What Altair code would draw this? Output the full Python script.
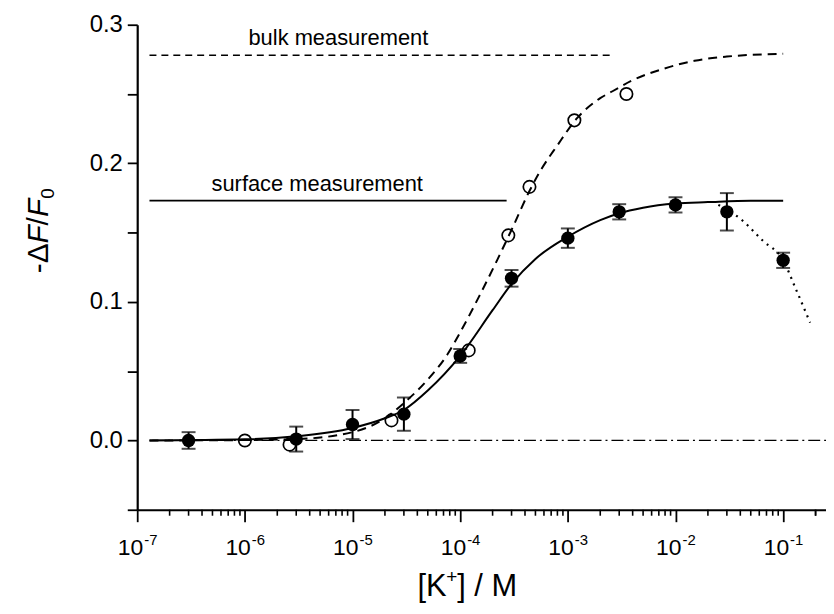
import altair as alt
import pandas as pd

FONT = "Liberation Sans"

# ---- data ----
surface_x = [3e-7, 3e-6, 1e-5, 3e-5, 1e-4, 3e-4, 1e-3, 3e-3, 1e-2, 3e-2, 1e-1]
surface_y = [0.000, 0.001, 0.0115, 0.019, 0.061, 0.117, 0.146, 0.165, 0.170, 0.165, 0.130]
surface_err = [0.006, 0.009, 0.0105, 0.012, 0.005, 0.006, 0.007, 0.0055, 0.0055, 0.0135, 0.0055]

bulk_x = [1e-6, 2.6e-6, 2.3e-5, 1.2e-4, 2.8e-4, 4.4e-4, 1.15e-3, 3.5e-3]
bulk_y = [0.000, -0.003, 0.0145, 0.065, 0.148, 0.183, 0.231, 0.250]

surface_fit_x = [1.3e-7, 1e-6, 3e-6, 1e-5, 2e-5, 3e-5, 5e-5, 1e-4, 2e-4, 3e-4, 5e-4,
                 1e-3, 2e-3, 3e-3, 5e-3, 1e-2, 2e-2, 5e-2, 1e-1]
surface_fit_y = [0.0, 0.0008, 0.003, 0.009, 0.016, 0.022, 0.036, 0.061, 0.094, 0.113, 0.131,
                 0.147, 0.159, 0.164, 0.168, 0.171, 0.172, 0.173, 0.173]

bulk_fit_x = [1.3e-7, 1e-6, 3e-6, 1e-5, 2e-5, 3e-5, 5e-5, 7.6e-5, 1e-4, 1.5e-4, 2.2e-4, 3e-4,
              4.4e-4, 5.5e-4, 8e-4, 1.2e-3, 2e-3, 2.6e-3, 4e-3, 7.6e-3, 1.5e-2, 3e-2, 1e-1]
bulk_fit_y = [0.0, 0.0003, 0.001, 0.006, 0.016, 0.027, 0.044, 0.062, 0.078, 0.104, 0.130, 0.152,
              0.180, 0.194, 0.213, 0.232, 0.247, 0.252, 0.260, 0.268, 0.274, 0.277, 0.279]

decline_x = [2.5e-2, 4e-2, 6.5e-2, 1e-1, 1.3e-1, 1.78e-1]
decline_y = [0.170, 0.160, 0.144, 0.130, 0.110, 0.085]

# reference levels: (x start, x end, y)
bulk_level = [1.3e-7, 2.7e-3, 0.278]
surface_level = [1.3e-7, 2.7e-4, 0.173]
zero_level = [1.38e-7, 0.25, 0.0]

labels = ["bulk measurement", "surface measurement"]
label_x = [1.08e-6, 4.9e-7]
label_y = [0.2855, 0.180]

decades = [-7, -6, -5, -4, -3, -2, -1]
y_ticks = [-0.05, 0.0, 0.05, 0.1, 0.15, 0.2, 0.25, 0.3]
minor_x = [k * 10.0 ** e for e in range(-7, 0) for k in range(2, 10)] + [2e-1]

X_DOMAIN = [1e-7, 0.25]
Y_DOMAIN = [-0.05, 0.3]
W, H = 693, 488

xs = alt.Scale(type="log", domain=X_DOMAIN)
ys = alt.Scale(domain=Y_DOMAIN)

x_axis = alt.Axis(values=[10.0 ** e for e in decades], labels=False, title=None, grid=False,
                  tickSize=12, tickWidth=1.8, tickColor="black", domainWidth=2.2, domainColor="black")
y_axis = alt.Axis(values=y_ticks, title=None, grid=False, tickSize=10, tickWidth=1.8,
                  tickColor="black", domainWidth=2.2, domainColor="black",
                  labelExpr="abs(round(datum.value*20)) % 2 == 0 ? format(datum.value, '.1f') : ''",
                  labelFont=FONT, labelFontSize=24, labelColor="black", labelPadding=5)

df_s = pd.DataFrame({"x": surface_x, "y": surface_y, "lo": [a - b for a, b in zip(surface_y, surface_err)],
                     "hi": [a + b for a, b in zip(surface_y, surface_err)]})
df_b = pd.DataFrame({"x": bulk_x, "y": bulk_y})
df_sf = pd.DataFrame({"x": surface_fit_x, "y": surface_fit_y})
df_bf = pd.DataFrame({"x": bulk_fit_x, "y": bulk_fit_y})
df_d = pd.DataFrame({"x": decline_x, "y": decline_y})

def level(vals):
    return pd.DataFrame({"x": [vals[0]], "x2": [vals[1]], "y": [vals[2]]})

base_axes = alt.Chart(pd.DataFrame({"x": [1e-7], "y": [0.0]})).mark_point(opacity=0).encode(
    x=alt.X("x:Q", scale=xs, axis=x_axis),
    y=alt.Y("y:Q", scale=ys, axis=y_axis),
)

def hline(vals, dash, width=1.8):
    kw = {"strokeDash": dash} if dash else {}
    return alt.Chart(level(vals)).mark_rule(color="black", strokeWidth=width, **kw).encode(
        x=alt.X("x:Q", scale=xs), x2="x2:Q", y=alt.Y("y:Q", scale=ys))

zero = hline(zero_level, [12, 4, 2, 4], 1.2)
bulk_h = hline(bulk_level, [7, 5], 1.6)
surf_h = hline(surface_level, None, 1.8)

def curve(df, dash, width=2):
    kw = {"strokeDash": dash} if dash else {}
    return alt.Chart(df).mark_line(color="black", strokeWidth=width, interpolate="monotone", **kw).encode(
        x=alt.X("x:Q", scale=xs), y=alt.Y("y:Q", scale=ys))

c_surf = curve(df_sf, None, 2)
c_bulk = curve(df_bf, [9, 6], 2)
c_dec = curve(df_d, [2, 5], 2.2)

err = alt.Chart(df_s).mark_rule(color="black", strokeWidth=2).encode(
    x=alt.X("x:Q", scale=xs), y=alt.Y("lo:Q", scale=ys), y2="hi:Q")
cap_lo = alt.Chart(df_s).mark_tick(color="black", orient="horizontal", size=14, thickness=2).encode(
    x=alt.X("x:Q", scale=xs), y=alt.Y("lo:Q", scale=ys))
cap_hi = alt.Chart(df_s).mark_tick(color="black", orient="horizontal", size=14, thickness=2).encode(
    x=alt.X("x:Q", scale=xs), y=alt.Y("hi:Q", scale=ys))
filled = alt.Chart(df_s).mark_circle(color="black", size=180, opacity=1).encode(
    x=alt.X("x:Q", scale=xs), y=alt.Y("y:Q", scale=ys))
hollow = alt.Chart(df_b).mark_point(color="black", shape="circle", filled=False, size=155,
                                    strokeWidth=1.7, opacity=1).encode(
    x=alt.X("x:Q", scale=xs), y=alt.Y("y:Q", scale=ys))

txt = alt.Chart(pd.DataFrame({"x": label_x, "y": label_y, "t": labels})).mark_text(
    font=FONT, fontSize=22, align="left", baseline="alphabetic", color="black").encode(
    x=alt.X("x:Q", scale=xs), y=alt.Y("y:Q", scale=ys), text="t:N")

# minor ticks on x axis
minor = alt.Chart(pd.DataFrame({"x": minor_x})).mark_rule(color="black", strokeWidth=1.6).encode(
    x=alt.X("x:Q", scale=xs), y=alt.value(H), y2=alt.value(H + 6))

# x tick labels 10^n
df_dec = pd.DataFrame({"x": [10.0 ** e for e in decades], "base": ["10"] * len(decades),
                       "exp": [str(e) for e in decades]})
lab10 = alt.Chart(df_dec).mark_text(font=FONT, fontSize=23, align="right", baseline="alphabetic",
                                    dx=6, color="black").encode(
    x=alt.X("x:Q", scale=xs), y=alt.value(H + 46), text="base:N")
labexp = alt.Chart(df_dec).mark_text(font=FONT, fontSize=15, align="left", baseline="alphabetic",
                                     dx=7, color="black").encode(
    x=alt.X("x:Q", scale=xs), y=alt.value(H + 35), text="exp:N")

# axis titles composed of pieces
def piece(t, x, y, size, style="normal", angle=0, align="left"):
    kw = {"angle": angle} if angle else {}
    return alt.Chart(pd.DataFrame({"t": [t]})).mark_text(
        font=FONT, fontSize=size, fontStyle=style, align=align, baseline="alphabetic",
        color="black", **kw).encode(x=alt.value(x), y=alt.value(y), text="t:N")

ytitle = [
    piece("-\u0394", -90, 250, 30, angle=270),
    piece("F", -90, 220, 30, "italic", angle=270),
    piece("/", -90, 202, 30, angle=270),
    piece("F", -90, 193.5, 30, "italic", angle=270),
    piece("0", -84, 175, 19, angle=270),
]
xtitle = [
    piece("[K", 282, 575, 31),
    piece("+", 311, 562, 19),
    piece("] / M", 322, 575, 31),
]

chart = alt.layer(
    base_axes, zero, bulk_h, surf_h, c_surf, c_bulk, c_dec, err, cap_lo, cap_hi, filled, hollow,
    txt, minor, lab10, labexp, *ytitle, *xtitle
).properties(
    width=W, height=H,
    autosize=alt.AutoSizeParams(type="none"),
    padding={"left": 130, "top": 15, "right": 0, "bottom": 95},
).configure_view(stroke=None)

chart.save("out.html", embed_options={"renderer": "svg", "actions": False})
